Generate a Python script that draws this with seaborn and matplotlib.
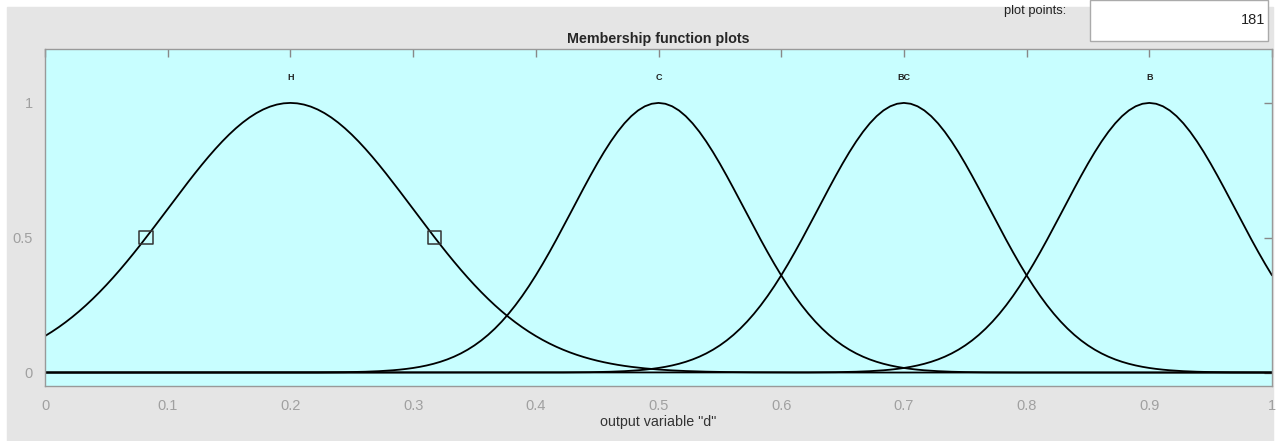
import numpy as np
import pandas as pd
import matplotlib
matplotlib.use("Agg")
import matplotlib.pyplot as plt
import seaborn as sns

# Membership functions of output variable "d" (gaussmf: sigma, center)
mf_names = ["H", "C", "BC", "B"]
mf_centers = [0.2, 0.5, 0.7, 0.9]
mf_sigmas = [0.1, 0.07, 0.07, 0.07]
n_points = 181
x_ticks = [0, 0.1, 0.2, 0.3, 0.4, 0.5, 0.6, 0.7, 0.8, 0.9, 1]
y_ticks = [0, 0.5, 1]
y_tick_labels = ["0", "0.5", "1"]
# half-height handles of the selected MF (H)
handle_x = [0.0823, 0.3177]
handle_y = [0.5, 0.5]

sns.set_style("white")
plt.rcParams["font.family"] = ["Liberation Sans", "DejaVu Sans"]

x = np.linspace(0, 1, n_points)
frames = []
for name, c, s in zip(mf_names, mf_centers, mf_sigmas):
    frames.append(pd.DataFrame({"x": x, "mu": np.exp(-(x - c) ** 2 / (2 * s ** 2)), "mf": name}))
df = pd.concat(frames, ignore_index=True)

fig = plt.figure(figsize=(12.81, 4.41), dpi=100, facecolor="white")
# gray panel background
fig.patches.append(plt.Rectangle((7 / 1281, 0), 1266 / 1281, 434 / 441,
                                 transform=fig.transFigure, color="#e5e5e5", zorder=-10))
ax = fig.add_axes([45 / 1281, 1 - 386 / 441, 1227 / 1281, 337 / 441])
ax.set_facecolor("#c8feff")

sns.lineplot(data=df, x="x", y="mu", units="mf", estimator=None, color="black",
             linewidth=1.3, ax=ax, legend=False)
sns.scatterplot(x=handle_x, y=handle_y, marker="s", s=90, facecolor="none",
                edgecolor="#333333", linewidth=1.1, ax=ax, zorder=5)

for name, c in zip(mf_names, mf_centers):
    ax.text(c, 1.094, name, ha="center", va="center", fontsize=6.5, fontweight="bold", color="#222222")

ax.set_xlim(0, 1)
ax.set_ylim(-0.05, 1.2)
ax.set_xticks(x_ticks)
ax.set_xticklabels([f"{t:g}" for t in x_ticks])
ax.set_yticks(y_ticks)
ax.set_yticklabels(y_tick_labels)
ax.tick_params(direction="in", length=6, width=1, color="#888888", labelcolor="#a0a0a0",
               labelsize=10.5, top=True, right=True, pad=9)
for sp in ax.spines.values():
    sp.set_color("#999999")
    sp.set_linewidth(1)
ax.set_xlabel('output variable "d"', fontsize=10.3, color="#333333", labelpad=2)
ax.set_ylabel("")
ax.set_title("Membership function plots", fontsize=10.3, fontweight="bold", pad=4)

# plot points box
fig.text(1035 / 1281, 1 - 11 / 441, "plot points:", fontsize=9.3, ha="center", va="center", color="#222222")
fig.patches.append(plt.Rectangle((1090 / 1281, 1 - 41 / 441), 178 / 1281, 41 / 441,
                                 transform=fig.transFigure, facecolor="white",
                                 edgecolor="#aaaaaa", linewidth=1, zorder=1))
fig.text(1265 / 1281, 1 - 20 / 441, str(n_points), fontsize=10.5, ha="right", va="center", color="#222222")

fig.savefig("out.png", dpi=100, facecolor=fig.get_facecolor())
